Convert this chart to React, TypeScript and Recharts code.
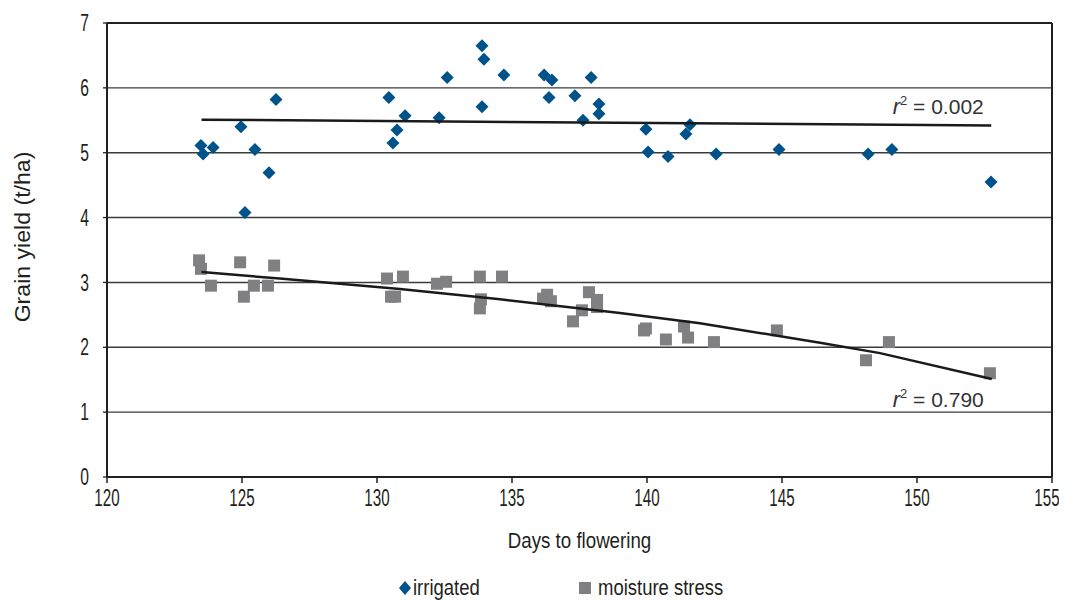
import React from 'react';
import {
  ScatterChart,
  Scatter,
  XAxis,
  YAxis,
  CartesianGrid,
  ReferenceLine,
  ReferenceDot,
  Legend,
} from 'recharts';

const FONT = '"Liberation Sans", Arial, sans-serif';
const TEXT = '#231f20';
const BLUE = '#00538a';
const GREY = '#808083';
const FS = 23;

const xTicks = [120, 125, 130, 135, 140, 145, 150, 155];
const yTicks = [0, 1, 2, 3, 4, 5, 6, 7];

const irrigatedDays = [
  123.48, 123.56, 123.93, 124.96, 125.11, 125.48, 126.0, 126.26, 130.44, 130.59, 130.74, 131.04,
  132.3, 132.6, 133.89, 133.96, 133.89, 134.7, 136.19, 136.48, 136.37, 137.33, 137.63, 137.93,
  138.22, 138.22, 139.96, 140.04, 140.78, 141.44, 141.59, 142.56, 144.89, 148.19, 149.07, 152.74,
];
const irrigatedYield = [
  5.11, 4.98, 5.08, 5.4, 4.08, 5.05, 4.69, 5.82, 5.85, 5.15, 5.35, 5.57,
  5.54, 6.16, 6.65, 6.44, 5.71, 6.2, 6.2, 6.12, 5.85, 5.88, 5.5, 6.16,
  5.75, 5.6, 5.36, 5.01, 4.94, 5.29, 5.43, 4.98, 5.05, 4.98, 5.05, 4.55,
];

const stressDays = [
  123.41, 123.48, 123.85, 124.93, 125.07, 125.44, 125.96, 126.19, 130.37, 130.52, 130.67, 130.96,
  132.22, 132.56, 133.81, 133.85, 133.81, 134.63, 136.15, 136.3, 136.44, 137.26, 137.59, 137.85,
  138.15, 138.15, 139.89, 139.96, 140.7, 141.37, 141.52, 142.48, 144.81, 148.11, 148.96, 152.7,
];
const stressYield = [
  3.34, 3.21, 2.95, 3.31, 2.78, 2.95, 2.95, 3.26, 3.06, 2.78, 2.78, 3.09,
  2.98, 3.01, 3.09, 2.74, 2.6, 3.09, 2.75, 2.81, 2.71, 2.4, 2.57, 2.85,
  2.73, 2.62, 2.26, 2.29, 2.12, 2.32, 2.15, 2.08, 2.26, 1.8, 2.08, 1.6,
];

// Trend lines
const irrigatedTrendDays = [123.5, 152.75];
const irrigatedTrendYield = [5.51, 5.42];
const stressTrendDays = [123.5, 126.4, 130.85, 134.56, 139.0, 141.96, 146.41, 148.63, 152.77];
const stressTrendYield = [3.16, 3.06, 2.9, 2.74, 2.53, 2.37, 2.07, 1.91, 1.51];

const xTitle = 'Days to flowering';
const yTitle = 'Grain yield (t/ha)';
const seriesNames = ['irrigated', 'moisture stress'];
const rSquared = ['0.002', '0.790'];

const zip = (xs: number[], ys: number[]) => xs.map((x, i) => ({ x, y: ys[i] }));

const irrigated = zip(irrigatedDays, irrigatedYield);
const stress = zip(stressDays, stressYield);
const irrigatedTrend = zip(irrigatedTrendDays, irrigatedTrendYield);
const stressTrend = zip(stressTrendDays, stressTrendYield);

const Diamond = (props: any) => {
  const { cx, cy } = props;
  const r = 6.5;
  return (
    <polygon
      points={`${cx},${cy - r} ${cx + r},${cy} ${cx},${cy + r} ${cx - r},${cy}`}
      fill={BLUE}
    />
  );
};

const Square = (props: any) => {
  const { cx, cy } = props;
  const s = 12;
  return <rect x={cx - s / 2} y={cy - s / 2} width={s} height={s} fill={GREY} />;
};

const NoShape = () => <g />;

const XTick = (props: any) => {
  const { x, y, payload } = props;
  // keep the last label inside the drawing area
  const shift = payload.value === xTicks[xTicks.length - 1] ? -5 : 0;
  return (
    <g transform={`translate(${x + shift},${y})`}>
      <text transform="scale(0.66,1)" textAnchor="middle" dy={16.5} fill={TEXT} fontFamily={FONT} fontSize={FS}>
        {payload.value}
      </text>
    </g>
  );
};

const YTick = (props: any) => {
  const { x, y, payload } = props;
  return (
    <g transform={`translate(${x},${y})`}>
      <text transform="scale(0.68,1)" textAnchor="end" dy={8.2} fill={TEXT} fontFamily={FONT} fontSize={FS}>
        {payload.value}
      </text>
    </g>
  );
};

const XTitle = (props: any) => {
  const vb = props.viewBox || {};
  const cx = vb.x + vb.width / 2;
  const by = vb.y + 71;
  return (
    <g transform={`translate(${cx},${by})`}>
      <text transform="scale(0.85,1)" textAnchor="middle" fill={TEXT} fontFamily={FONT} fontSize={22}>
        {xTitle}
      </text>
    </g>
  );
};

const YTitle = (props: any) => {
  const vb = props.viewBox || {};
  const cy = vb.y + vb.height / 2 - 13;
  return (
    <g transform={`translate(22,${cy}) rotate(-90)`}>
      <text transform="scale(1.05,1)" textAnchor="middle" fill={TEXT} fontFamily={FONT} fontSize={22}>
        {yTitle}
      </text>
    </g>
  );
};

const rLabel = (value: string) => (props: any) => {
  const { cx, cy } = props;
  return (
    <text x={cx} y={cy} fill="#333" fontFamily={FONT} fontSize={21}>
      <tspan fontStyle="italic" fontSize={22}>r</tspan>
      <tspan fontSize={13} dy={-9}>2</tspan>
      <tspan dy={9}>{` = ${value}`}</tspan>
    </text>
  );
};

const legendText: React.CSSProperties = {
  position: 'absolute',
  top: 0,
  lineHeight: '26px',
  whiteSpace: 'nowrap',
  transform: 'scaleX(0.84)',
  transformOrigin: 'left center',
};

const LegendContent = () => (
  <div style={{ position: 'relative', width: 1050, height: 26, fontFamily: FONT, fontSize: 22, color: TEXT }}>
    <svg width={16} height={16} style={{ position: 'absolute', left: 389, top: 5 }}>
      <polygon points="8,1 14,8 8,15 2,8" fill={BLUE} />
    </svg>
    <span style={{ ...legendText, left: 405 }}>{seriesNames[0]}</span>
    <svg width={14} height={14} style={{ position: 'absolute', left: 570, top: 6 }}>
      <rect x={1} y={1} width={12} height={12} fill={GREY} />
    </svg>
    <span style={{ ...legendText, left: 590 }}>{seriesNames[1]}</span>
  </div>
);

export default function App() {
  return (
    <ScatterChart
      width={1059}
      height={593}
      margin={{ top: 15, right: 15, bottom: 0, left: 0 }}
      style={{ fontFamily: FONT }}
    >
      <CartesianGrid horizontal vertical={false} stroke="#3a3a3a" strokeWidth={1.4} />
      <XAxis
        type="number"
        dataKey="x"
        domain={[120, 155]}
        ticks={xTicks}
        allowDataOverflow
        height={98}
        tickSize={6}
        tickMargin={6}
        axisLine={{ stroke: TEXT, strokeWidth: 2 }}
        tickLine={{ stroke: TEXT, strokeWidth: 1.5 }}
        tick={<XTick />}
        label={{ content: <XTitle /> }}
      />
      <YAxis
        type="number"
        dataKey="y"
        domain={[0, 7]}
        ticks={yTicks}
        allowDataOverflow
        width={99}
        tickSize={4}
        tickMargin={14}
        axisLine={{ stroke: TEXT, strokeWidth: 2 }}
        tickLine={{ stroke: TEXT, strokeWidth: 1.3 }}
        tick={<YTick />}
        label={{ content: <YTitle /> }}
      />
      <ReferenceLine x={155} stroke={TEXT} strokeWidth={2} />
      <ReferenceLine y={7} stroke={TEXT} strokeWidth={2} />
      <Legend verticalAlign="bottom" content={<LegendContent />} wrapperStyle={{ left: 0, bottom: 0, width: 1050, height: 26 }} />
      <Scatter name={seriesNames[0]} data={irrigated} shape={<Diamond />} isAnimationActive={false} />
      <Scatter name={seriesNames[1]} data={stress} shape={<Square />} isAnimationActive={false} />
      <Scatter
        name="irrigated trend"
        data={irrigatedTrend}
        shape={<NoShape />}
        line={{ stroke: '#1a1a1a', strokeWidth: 2.5 }}
        lineType="joint"
        legendType="none"
        isAnimationActive={false}
      />
      <Scatter
        name="moisture trend"
        data={stressTrend}
        shape={<NoShape />}
        line={{ stroke: '#1a1a1a', strokeWidth: 2.5 }}
        lineType="joint"
        legendType="none"
        isAnimationActive={false}
      />
      <ReferenceDot x={149.1} y={5.6} r={0} shape={rLabel(rSquared[0])} />
      <ReferenceDot x={149.1} y={1.08} r={0} shape={rLabel(rSquared[1])} />
    </ScatterChart>
  );
}
